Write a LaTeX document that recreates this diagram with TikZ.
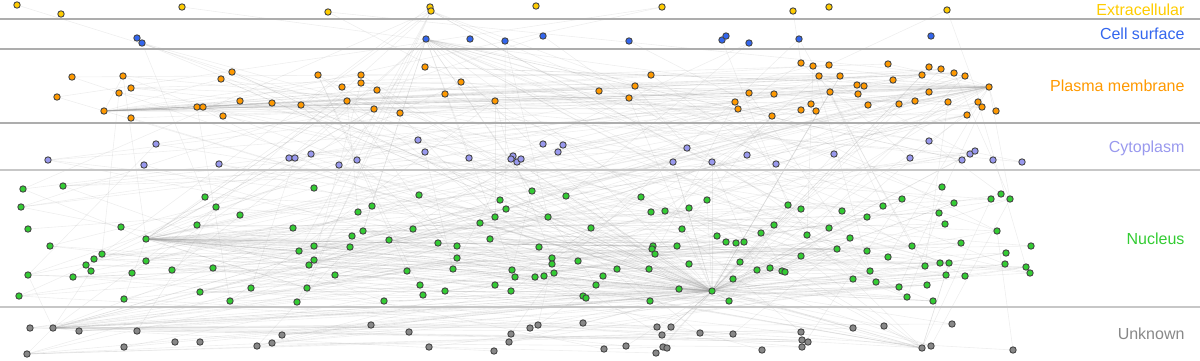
\documentclass[tikz,border=0pt]{standalone}
\usepackage{fontspec}
\setmainfont{Liberation Sans}
\usetikzlibrary{calc}
\pgfdeclarelayer{bg}
\pgfsetlayers{bg,main}
\definecolor{exc}{RGB}{255,204,0}
\definecolor{csf}{RGB}{51,102,238}
\definecolor{plm}{RGB}{255,153,0}
\definecolor{cyt}{RGB}{153,153,238}
\definecolor{nuc}{RGB}{51,204,51}
\definecolor{unk}{RGB}{136,136,136}
\definecolor{rim}{RGB}{68,68,68}

\begin{document}
\begin{tikzpicture}[x=1pt, y=-1pt,
    dot/.style={circle, draw=rim, line width=0.9pt, inner sep=0pt, minimum size=6.4pt},
    band/.style={line width=2pt, draw=black!32},
    lbl/.style={anchor=base east, font=\fontsize{16}{18}\selectfont},
    edge/.style={draw=black!40, line width=0.6pt, opacity=0.16}
  ]
  \useasboundingbox (0,0) rectangle (1200,360);

  % compartment bands
  \draw[band] (0,19) -- (1200,19);
  \draw[band] (0,49) -- (1200,49);
  \draw[band] (0,123) -- (1200,123);
  \draw[band, draw=black!22] (0,170) -- (1200,170);
  \draw[band, draw=black!22] (0,307) -- (1200,307);

  \node[lbl, text=exc] (lex) at (1188,15) {Extracellular};
  \node[lbl, text=csf] (lcs) at (1188,39) {Cell surface};
  \node[lbl, text=plm] (lpm) at (1188,91) {Plasma membrane};
  \node[lbl, text=cyt] (lcy) at (1188,152) {Cytoplasm};
  \node[lbl, text=nuc] (lnu) at (1188,244) {Nucleus};
  \node[lbl, text=unk] (lun) at (1188,339) {Unknown};

  % proteins
  \foreach \x/\y [count=\i] in {17/5, 61/14, 182/7, 328/12, 430/7, 536/6, 662/7,
      793/11, 829/7, 947/10}
    {\node[dot, fill=exc] (ex\i) at (\x,\y) {}; \xdef\nex{\i}}
  \node[dot, fill=exc] (exA) at (431,11) {};

  \foreach \x/\y [count=\i] in {137/38, 142/43, 470/39, 505/41, 543/36, 629/41,
      722/40, 726/36, 749/43, 799/39, 931/36}
    {\node[dot, fill=csf] (cs\i) at (\x,\y) {}; \xdef\ncs{\i}}
  \node[dot, fill=csf] (csA) at (426,39) {};

  \foreach \x/\y [count=\i] in {72/77, 123/76, 131/88, 119/93, 57/97, 131/118,
      197/107, 232/72, 221/79, 318/75, 361/75, 361/83, 342/87, 377/90, 240/101,
      203/107, 272/103, 301/105, 347/101, 223/116, 374/109, 400/113, 425/67,
      461/82, 445/94, 495/101, 599/91, 651/75, 635/86, 629/98, 749/93, 774/94,
      735/102, 738/109, 772/116, 801/63, 801/110, 813/66, 829/65, 819/76, 840/76,
      888/64, 929/67, 941/69, 954/73, 965/76, 922/75, 893/80, 857/85, 864/86,
      858/94, 830/92, 929/92, 811/104, 816/111, 868/105, 899/104, 915/101,
      948/102, 978/102, 982/107, 996/111, 967/115}
    {\node[dot, fill=plm] (pm\i) at (\x,\y) {}; \xdef\npm{\i}}
  \node[dot, fill=plm] (pmA) at (104,111) {};
  \node[dot, fill=plm] (pmB) at (989,87) {};

  \foreach \x/\y [count=\i] in {156/144, 48/160, 144/165, 219/164, 289/158,
      295/158, 311/154, 339/165, 357/160, 418/140, 425/152, 469/158, 513/156,
      511/159, 517/162, 521/159, 543/144, 563/145, 558/152, 687/148, 673/162,
      712/162, 747/155, 776/164, 834/154, 929/141, 910/158, 962/160, 970/154,
      975/151, 993/160, 1022/162}
    {\node[dot, fill=cyt] (cy\i) at (\x,\y) {}; \xdef\ncy{\i}}

  \foreach \x/\y [count=\i] in {23/189, 63/186, 21/207, 28/229, 50/246, 121/227,
      102/254, 94/259, 86/265, 91/271, 73/277, 28/275, 146/261, 132/273, 172/270,
      19/296, 124/299, 197/225, 200/292, 205/197, 216/207, 240/215, 314/188,
      293/228, 299/251, 314/246, 314/260, 309/265, 335/275, 307/288, 297/302,
      213/268, 251/288, 230/301, 358/212, 372/206, 352/236, 363/231, 350/247,
      389/240, 384/301, 419/195, 532/191, 566/196, 500/200, 506/209, 495/217,
      480/223, 548/217, 413/229, 591/228, 490/239, 438/243, 457/246, 539/247,
      457/258, 552/258, 552/264, 578/261, 407/271, 453/269, 512/270, 515/277,
      535/277, 544/276, 554/273, 420/285, 423/295, 445/291, 495/285, 511/291,
      596/285, 583/296, 586/298, 641/197, 707/200, 651/212, 665/211, 689/208,
      788/205, 682/229, 717/236, 726/242, 736/243, 744/242, 761/233, 774/225,
      653/246, 652/249, 655/254, 677/246, 689/264, 740/262, 617/269, 649/269,
      603/276, 757/270, 770/268, 782/271, 785/272, 733/279, 679/289, 650/301,
      729/301, 801/209, 801/256, 942/187, 902/199, 883/206, 954/203, 991/199,
      1001/194, 842/211, 867/217, 939/213, 945/224, 997/231, 807/235, 829/228,
      850/238, 837/249, 867/251, 912/246, 961/243, 888/257, 925/266, 940/263,
      949/263, 870/271, 853/279, 876/282, 899/287, 927/285, 946/275, 965/276,
      907/297, 933/301, 1010/199, 1031/246, 1006/253, 1005/264, 1026/267, 1030/273}
    {\node[dot, fill=nuc] (nu\i) at (\x,\y) {}; \xdef\nnu{\i}}
  \node[dot, fill=nuc] (nuA) at (146,239) {};
  \node[dot, fill=nuc] (nuB) at (712,291) {};

  \foreach \x/\y [count=\i] in {30/328, 79/331, 137/331, 124/347, 27/354,
      175/342, 200/342, 371/325, 282/335, 272/343, 257/346, 409/332, 429/347,
      494/351, 511/334, 509/342, 530/328, 538/325, 583/323, 657/327, 671/327,
      662/335, 700/333, 733/334, 604/349, 626/346, 663/347, 667/348, 656/353,
      762/350, 801/332, 802/340, 808/342, 802/347, 853/328, 884/326, 952/324,
      931/346, 1013/350}
    {\node[dot, fill=unk] (un\i) at (\x,\y) {}; \xdef\nun{\i}}
  \node[dot, fill=unk] (unA) at (53,328) {};
  \node[dot, fill=unk] (unB) at (922,348) {};

  % interactions
  \pgfmathsetseed{4127}
  \begin{pgfonlayer}{bg}
    % hubs
    \foreach \k in {1,...,45}
      {\pgfmathrandominteger{\rb}{1}{\nnu}\draw[edge] (nuA) -- (nu\rb);}
    \foreach \k in {1,...,12}
      {\pgfmathrandominteger{\rb}{1}{\npm}\draw[edge] (nuA) -- (pm\rb);}
    \foreach \k in {1,...,70}
      {\pgfmathrandominteger{\rb}{1}{\nnu}\draw[edge] (nuB) -- (nu\rb);}
    \foreach \k in {1,...,22}
      {\pgfmathrandominteger{\rb}{1}{\npm}\draw[edge] (nuB) -- (pm\rb);}
    \foreach \k in {1,...,14}
      {\pgfmathrandominteger{\rb}{1}{\ncy}\draw[edge] (nuB) -- (cy\rb);}
    \foreach \k in {1,...,18}
      {\pgfmathrandominteger{\rb}{1}{\nun}\draw[edge] (nuB) -- (un\rb);}
    \foreach \k in {1,...,28}
      {\pgfmathrandominteger{\rb}{1}{\npm}\draw[edge] (pmA) -- (pm\rb);}
    \foreach \k in {1,...,28}
      {\pgfmathrandominteger{\rb}{1}{\npm}\draw[edge] (pmB) -- (pm\rb);}
    \foreach \k in {1,...,12}
      {\pgfmathrandominteger{\rb}{1}{\nnu}\draw[edge] (pmB) -- (nu\rb);}
    \foreach \k in {1,...,20}
      {\pgfmathrandominteger{\rb}{1}{\nnu}\draw[edge] (unA) -- (nu\rb);}
    \foreach \k in {1,...,10}
      {\pgfmathrandominteger{\rb}{1}{\nun}\draw[edge] (unA) -- (un\rb);}
    \foreach \k in {1,...,16}
      {\pgfmathrandominteger{\rb}{1}{\nnu}\draw[edge] (unB) -- (nu\rb);}
    \foreach \k in {1,...,16}
      {\pgfmathrandominteger{\rb}{1}{\nnu}\draw[edge] (csA) -- (nu\rb);}
    \foreach \k in {1,...,8}
      {\pgfmathrandominteger{\rb}{1}{\ncy}\draw[edge] (csA) -- (cy\rb);}
    \foreach \k in {1,...,10}
      {\pgfmathrandominteger{\rb}{1}{\nnu}\draw[edge] (exA) -- (nu\rb);}
    % scattered pairs
    \foreach \k in {1,...,90}
      {\pgfmathrandominteger{\ra}{1}{\nnu}\pgfmathrandominteger{\rb}{1}{\nnu}%
       \draw[edge] (nu\ra) -- (nu\rb);}
    \foreach \k in {1,...,60}
      {\pgfmathrandominteger{\ra}{1}{\nnu}\pgfmathrandominteger{\rb}{1}{\npm}%
       \draw[edge] (nu\ra) -- (pm\rb);}
    \foreach \k in {1,...,30}
      {\pgfmathrandominteger{\ra}{1}{\nnu}\pgfmathrandominteger{\rb}{1}{\ncy}%
       \draw[edge] (nu\ra) -- (cy\rb);}
    \foreach \k in {1,...,35}
      {\pgfmathrandominteger{\ra}{1}{\nnu}\pgfmathrandominteger{\rb}{1}{\nun}%
       \draw[edge] (nu\ra) -- (un\rb);}
    \foreach \k in {1,...,25}
      {\pgfmathrandominteger{\ra}{1}{\npm}\pgfmathrandominteger{\rb}{1}{\npm}%
       \draw[edge] (pm\ra) -- (pm\rb);}
    \foreach \k in {1,...,18}
      {\pgfmathrandominteger{\ra}{1}{\npm}\pgfmathrandominteger{\rb}{1}{\ncy}%
       \draw[edge] (pm\ra) -- (cy\rb);}
    \foreach \k in {1,...,14}
      {\pgfmathrandominteger{\ra}{1}{\ncs}\pgfmathrandominteger{\rb}{1}{\nnu}%
       \draw[edge] (cs\ra) -- (nu\rb);}
    \foreach \k in {1,...,10}
      {\pgfmathrandominteger{\ra}{1}{\nex}\pgfmathrandominteger{\rb}{1}{\npm}%
       \draw[edge] (ex\ra) -- (pm\rb);}
    \foreach \k in {1,...,14}
      {\pgfmathrandominteger{\ra}{1}{\nun}\pgfmathrandominteger{\rb}{1}{\nun}%
       \draw[edge] (un\ra) -- (un\rb);}
  \end{pgfonlayer}
\end{tikzpicture}
\end{document}
